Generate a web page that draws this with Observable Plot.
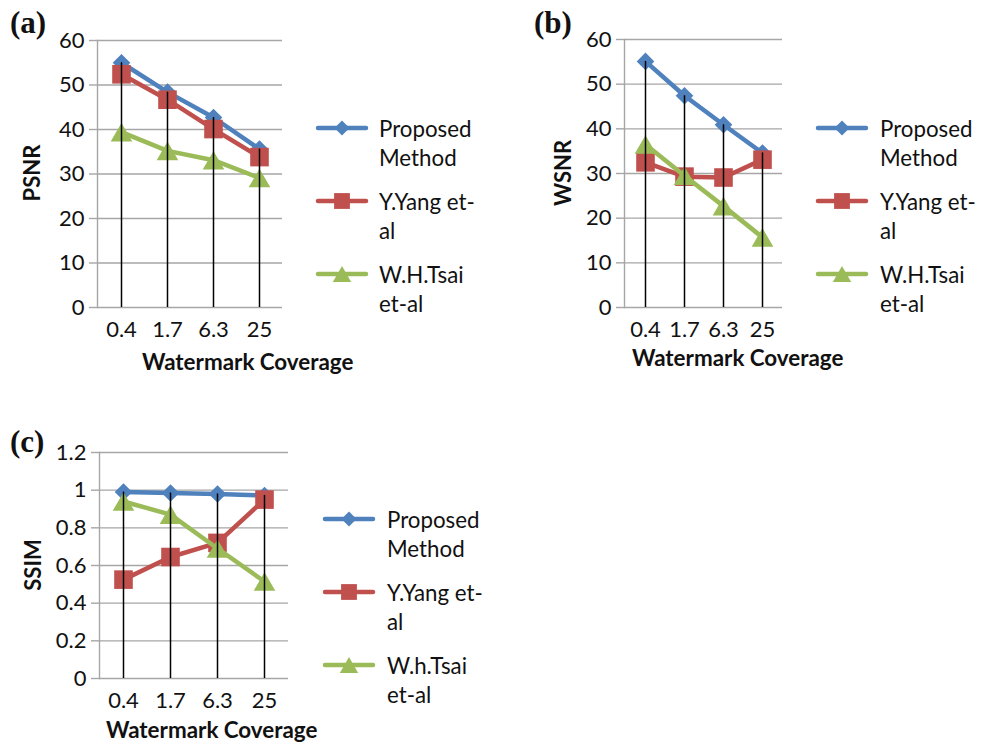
<!DOCTYPE html>
<html>
<head>
<meta charset="utf-8">
<script src="https://cdn.jsdelivr.net/npm/d3@7"></script>
<script src="https://cdn.jsdelivr.net/npm/@observablehq/plot@0.6"></script>
<style>
  html, body { margin: 0; padding: 0; background: #fff; }
  #root { position: relative; width: 994px; height: 745px; overflow: hidden; font-family: Lato, "Open Sans", sans-serif; color: #111; }
  .abs { position: absolute; white-space: nowrap; }
  .panel-label { font-family: "Liberation Serif", "DejaVu Serif", serif; font-weight: bold; font-size: 31px; line-height: 31px; }
  .ytitle { font-weight: bold; font-size: 22px; line-height: 22px; transform: translate(-50%, -50%) rotate(-90deg); }
  .xtitle { font-weight: bold; font-size: 22.4px; line-height: 22px; transform: translateY(-50%); }
  .legtext { font-size: 22.3px; line-height: 29px; transform: translateY(-14.5px); }
  svg { overflow: visible; }
</style>
</head>
<body>
<div id="root"></div>
<script>
// ---------- data ----------
const categories = ["0.4", "1.7", "6.3", "25"];
const seriesColors = ["#4f81bd", "#c0504d", "#9bbb59"];

const psnrProposed = [55.0, 48.4, 42.7, 35.6];
const psnrYang     = [52.4, 46.7, 40.1, 33.8];
const psnrTsai     = [39.4, 35.2, 33.1, 29.1];

const wsnrProposed = [55.1, 47.4, 40.9, 34.6];
const wsnrYang     = [32.5, 29.3, 29.1, 33.1];
const wsnrTsai     = [36.5, 29.5, 22.7, 15.7];

const ssimProposed = [0.99, 0.985, 0.98, 0.972];
const ssimYang     = [0.525, 0.645, 0.72, 0.95];
const ssimTsai     = [0.94, 0.87, 0.69, 0.515];

const ticks60 = [0, 10, 20, 30, 40, 50, 60];
const ticks12 = [0, 0.2, 0.4, 0.6, 0.8, 1, 1.2];
const tickLabels12 = ["0", "0.2", "0.4", "0.6", "0.8", "1", "1.2"];

const legendAB = [["Proposed", "Method"], ["Y.Yang et-", "al"], ["W.H.Tsai", "et-al"]];
const legendC  = [["Proposed", "Method"], ["Y.Yang et-", "al"], ["W.h.Tsai", "et-al"]];

// ---------- symbols (half-extent = r) ----------
const diamondSym = { draw(ctx, size) { const r = Math.sqrt(size / Math.PI); ctx.moveTo(0, -r); ctx.lineTo(r, 0); ctx.lineTo(0, r); ctx.lineTo(-r, 0); ctx.closePath(); } };
const squareSym  = { draw(ctx, size) { const r = Math.sqrt(size / Math.PI); ctx.moveTo(-r, -r); ctx.lineTo(r, -r); ctx.lineTo(r, r); ctx.lineTo(-r, r); ctx.closePath(); } };
const triangleSym = { draw(ctx, size) { const r = Math.sqrt(size / Math.PI); const h = r * 0.86; ctx.moveTo(0, -h); ctx.lineTo(r, h); ctx.lineTo(-r, h); ctx.closePath(); } };
const symbols = [diamondSym, squareSym, triangleSym];
const radii = [8.8, 9.3, 10.8];

const root = document.getElementById("root");

function addDiv(cls, text, left, top, extra) {
  const d = document.createElement("div");
  d.className = "abs " + cls;
  d.textContent = text;
  d.style.left = left + "px";
  d.style.top = top + "px";
  if (extra) Object.assign(d.style, extra);
  root.appendChild(d);
  return d;
}

function panel({ series, ticks, tickFormat, left, top, width, height, mL, mR, mT, mB }) {
  const data = [];
  series.forEach((vals, s) => vals.forEach((v, i) => data.push({ cat: categories[i], value: v, s })));
  const maxData = categories.map((c, i) => ({ cat: c, max: d3.max(series, (vals) => vals[i]) }));
  const marks = [
    Plot.gridY(ticks, { stroke: "#a6a6a6", strokeOpacity: 1, strokeWidth: 1.4 }),
    Plot.axisY(ticks, { tickSize: 8, tickPadding: 5, stroke: "#a6a6a6", strokeOpacity: 1, strokeWidth: 1.4, fill: "#111", tickFormat, label: null, fontSize: 22 }),
    Plot.axisX({ tickSize: 0, tickPadding: 14, fill: "#111", label: null, fontSize: 22 }),
    Plot.frame({ anchor: "left", stroke: "#a6a6a6", strokeOpacity: 1, strokeWidth: 1.4 })
  ];
  series.forEach((vals, s) => {
    const sd = data.filter((d) => d.s === s);
    marks.push(Plot.line(sd, { x: "cat", y: "value", stroke: seriesColors[s], strokeWidth: 4.5, strokeLinejoin: "round", strokeLinecap: "round" }));
    marks.push(Plot.dot(sd, { x: "cat", y: "value", symbol: symbols[s], r: radii[s], fill: seriesColors[s], stroke: "none" }));
  });
  marks.push(Plot.ruleX(maxData, { x: "cat", y1: 0, y2: "max", stroke: "#000", strokeWidth: 1.5 }));
  const chart = Plot.plot({
    width, height,
    marginLeft: mL, marginRight: mR, marginTop: mT, marginBottom: mB,
    style: { fontFamily: "Lato, 'Open Sans', sans-serif", fontSize: "22px", background: "transparent", color: "#111" },
    x: { type: "point", domain: categories, padding: 0.5 },
    y: { domain: [ticks[0], ticks[ticks.length - 1]] },
    marks
  });
  chart.style.position = "absolute";
  chart.style.left = left + "px";
  chart.style.top = top + "px";
  root.appendChild(chart);
}

function legend(lineLeft, textLeft, y0, step, labels) {
  labels.forEach((lines, s) => {
    const cy = y0 + s * step;
    const w = 52, h = 24;
    const svg = d3.create("svg").attr("width", w).attr("height", h)
      .style("position", "absolute").style("left", lineLeft + "px").style("top", (cy - h / 2) + "px");
    svg.append("line").attr("x1", 2).attr("x2", w - 2).attr("y1", h / 2).attr("y2", h / 2)
      .attr("stroke", seriesColors[s]).attr("stroke-width", 4.5).attr("stroke-linecap", "round");
    const p = d3.path();
    symbols[s].draw(p, Math.PI * Math.pow(radii[s] * 0.85, 2));
    svg.append("path").attr("d", p.toString()).attr("transform", `translate(${w / 2},${h / 2})`).attr("fill", seriesColors[s]);
    root.appendChild(svg.node());
    const d = addDiv("legtext", "", textLeft, cy);
    d.innerHTML = lines.join("<br>");
  });
}

// Panel (a)
panel({ series: [psnrProposed, psnrYang, psnrTsai], ticks: ticks60, tickFormat: (d) => String(d),
        left: 0, top: 0, width: 300, height: 345, mL: 97, mR: 18, mT: 40, mB: 38 });
// Panel (b)
panel({ series: [wsnrProposed, wsnrYang, wsnrTsai], ticks: ticks60, tickFormat: (d) => String(d),
        left: 530, top: 0, width: 270, height: 345, mL: 94, mR: 18, mT: 39, mB: 38 });
// Panel (c)
panel({ series: [ssimProposed, ssimYang, ssimTsai], ticks: ticks12, tickFormat: (d, i) => tickLabels12[i],
        left: 0, top: 420, width: 300, height: 300, mL: 99, mR: 12, mT: 32, mB: 42 });

// labels
addDiv("panel-label", "(a)", 10, 7);
addDiv("panel-label", "(b)", 534, 7);
addDiv("panel-label", "(c)", 10, 426);

addDiv("ytitle", "PSNR", 32, 173);
addDiv("ytitle", "WSNR", 563, 173);
addDiv("ytitle", "SSIM", 33, 565);

addDiv("xtitle", "Watermark Coverage", 142, 362);
addDiv("xtitle", "Watermark Coverage", 632, 358);
addDiv("xtitle", "Watermark Coverage", 106, 730);

legend(316, 379, 128, 73, legendAB);
legend(816, 880, 128, 73, legendAB);
legend(323, 387, 519, 73, legendC);
</script>
</body>
</html>
